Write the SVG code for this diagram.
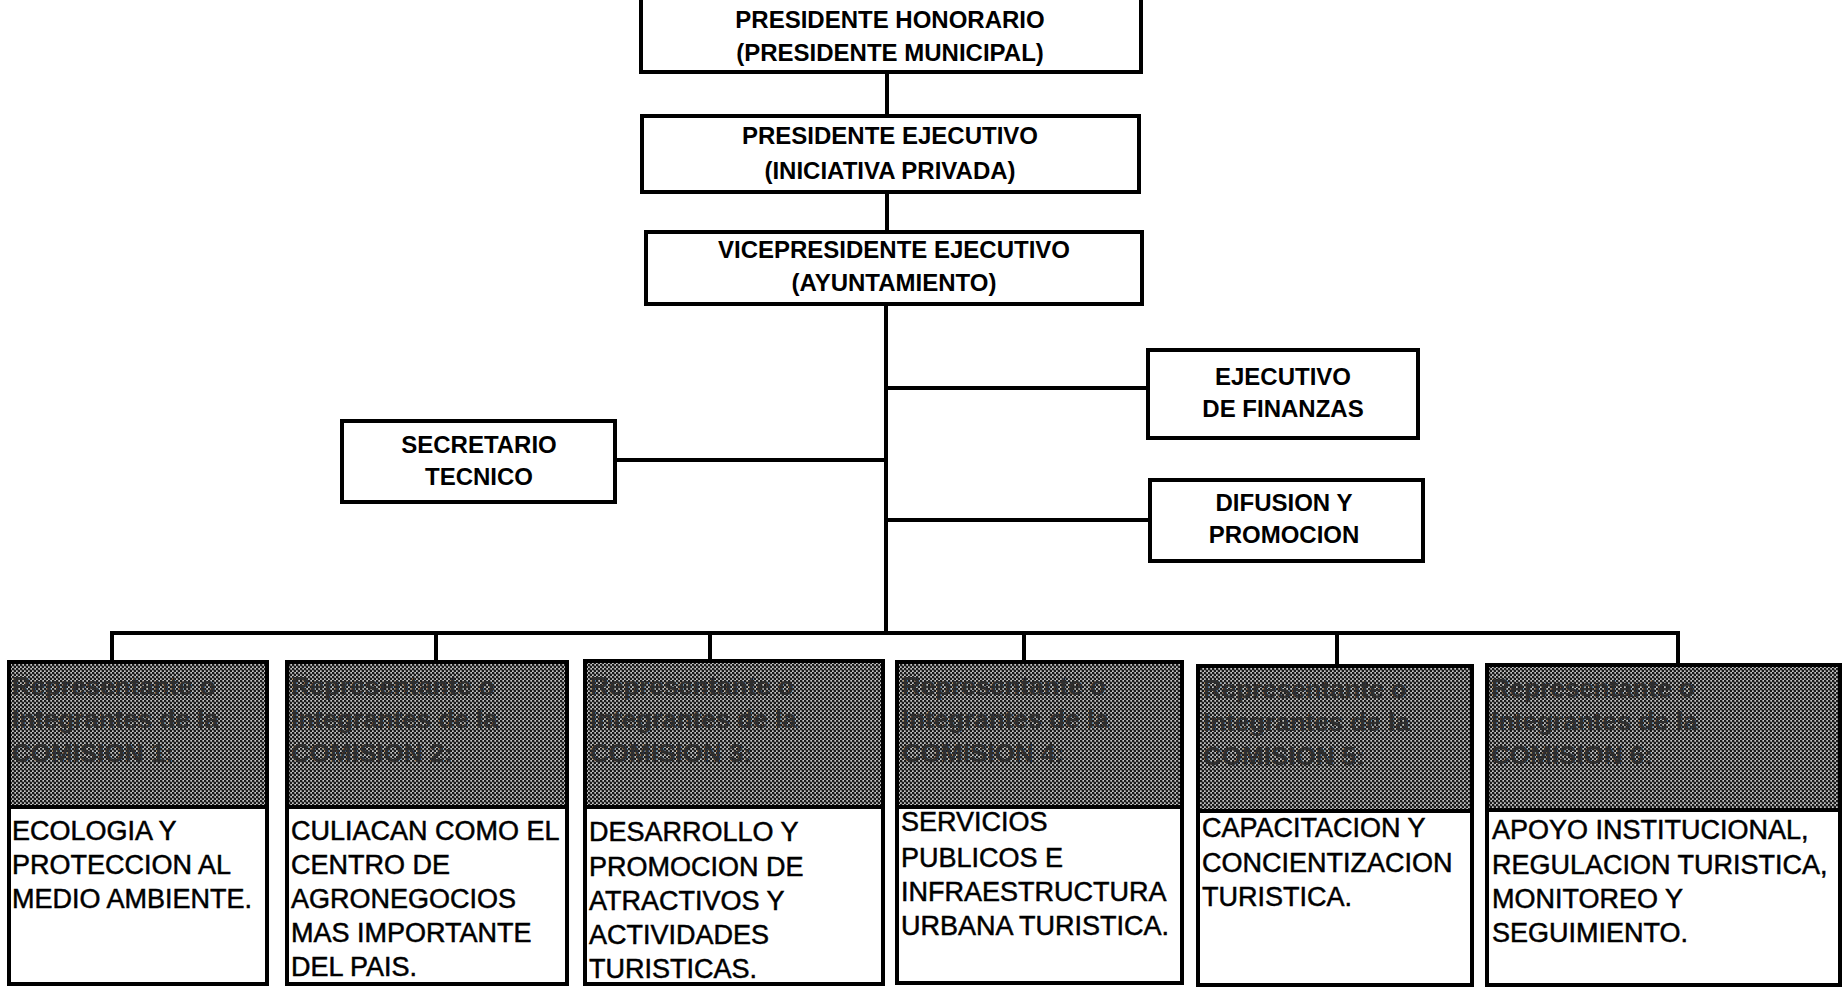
<svg xmlns="http://www.w3.org/2000/svg" width="1844" height="993" viewBox="0 0 1844 993">
<defs>
<pattern id="dots" width="4" height="4" patternUnits="userSpaceOnUse">
<rect width="4" height="4" fill="#c4c4c4"/>
<circle cx="1" cy="1" r="1.4" fill="#1a1a1a"/>
<circle cx="3" cy="3" r="1.4" fill="#1a1a1a"/>
</pattern>
<style>
.box{fill:#fff;stroke:#000;stroke-width:4}
.ln{stroke:#000;stroke-width:4;fill:none;stroke-linecap:square}
.tb{font-family:"Liberation Sans",Arial,sans-serif;font-weight:bold;font-size:24px;fill:#000;text-anchor:middle}
.hd{fill:url(#dots);stroke:#000;stroke-width:4}
.ht{font-family:"Liberation Sans",Arial,sans-serif;font-weight:bold;font-size:26px;fill:#2e2e2e}
.bt{font-family:"Liberation Sans",Arial,sans-serif;font-size:27px;fill:#000;stroke:#000;stroke-width:0.5}
</style>
</defs>
<rect width="1844" height="993" fill="#fff"/>
<g id="connectors">
<line class="ln" x1="887" y1="72" x2="887" y2="116"/>
<line class="ln" x1="887" y1="192" x2="887" y2="232"/>
<line class="ln" x1="886" y1="304" x2="886" y2="633"/>
<line class="ln" x1="886" y1="388" x2="1148" y2="388"/>
<line class="ln" x1="615" y1="460" x2="886" y2="460"/>
<line class="ln" x1="886" y1="520" x2="1150" y2="520"/>
<polyline class="ln" points="112,662 112,633 1678,633 1678,662"/>
<line class="ln" x1="436" y1="633" x2="436" y2="662"/>
<line class="ln" x1="710" y1="633" x2="710" y2="661"/>
<line class="ln" x1="1024" y1="633" x2="1024" y2="662"/>
<line class="ln" x1="1337" y1="633" x2="1337" y2="666"/>
</g>
<g id="presidente-honorario">
<rect class="box" x="641" y="-2" width="500" height="74"/>
<text class="tb" x="890" y="28">PRESIDENTE HONORARIO</text>
<text class="tb" x="890" y="61">(PRESIDENTE MUNICIPAL)</text>
</g>
<g id="presidente-ejecutivo">
<rect class="box" x="642" y="116" width="497" height="76"/>
<text class="tb" x="890" y="144">PRESIDENTE EJECUTIVO</text>
<text class="tb" x="890" y="179">(INICIATIVA PRIVADA)</text>
</g>
<g id="vicepresidente-ejecutivo">
<rect class="box" x="646" y="232" width="496" height="72"/>
<text class="tb" x="894" y="258">VICEPRESIDENTE EJECUTIVO</text>
<text class="tb" x="894" y="291">(AYUNTAMIENTO)</text>
</g>
<g id="ejecutivo-finanzas">
<rect class="box" x="1148" y="350" width="270" height="88"/>
<text class="tb" x="1283" y="385">EJECUTIVO</text>
<text class="tb" x="1283" y="417">DE FINANZAS</text>
</g>
<g id="secretario-tecnico">
<rect class="box" x="342" y="421" width="273" height="81"/>
<text class="tb" x="479" y="453">SECRETARIO</text>
<text class="tb" x="479" y="485">TECNICO</text>
</g>
<g id="difusion-promocion">
<rect class="box" x="1150" y="480" width="273" height="81"/>
<text class="tb" x="1284" y="511">DIFUSION Y</text>
<text class="tb" x="1284" y="543">PROMOCION</text>
</g>
<g id="comision-1">
<rect class="box" x="9" y="662" width="258" height="322"/>
<rect class="hd" x="9" y="662" width="258" height="145"/>
<text class="ht" x="12" y="695">Representante o</text>
<text class="ht" x="12" y="728">Integrantes de la</text>
<text class="ht" x="12" y="762">COMISION 1:</text>
<text class="bt" x="12" y="840">ECOLOGIA Y</text>
<text class="bt" x="12" y="874">PROTECCION AL</text>
<text class="bt" x="12" y="908">MEDIO AMBIENTE.</text>
</g>
<g id="comision-2">
<rect class="box" x="287" y="662" width="280" height="322"/>
<rect class="hd" x="287" y="662" width="280" height="145"/>
<text class="ht" x="291" y="695">Representante o</text>
<text class="ht" x="291" y="728">Integrantes de la</text>
<text class="ht" x="291" y="762">COMISION 2:</text>
<text class="bt" x="291" y="840">CULIACAN COMO EL</text>
<text class="bt" x="291" y="874">CENTRO DE</text>
<text class="bt" x="291" y="908">AGRONEGOCIOS</text>
<text class="bt" x="291" y="942">MAS IMPORTANTE</text>
<text class="bt" x="291" y="976">DEL PAIS.</text>
</g>
<g id="comision-3">
<rect class="box" x="585" y="661" width="298" height="323"/>
<rect class="hd" x="585" y="661" width="298" height="146"/>
<text class="ht" x="590" y="695">Representante o</text>
<text class="ht" x="590" y="728">Integrantes de la</text>
<text class="ht" x="590" y="762">COMISION 3:</text>
<text class="bt" x="589" y="841">DESARROLLO Y</text>
<text class="bt" x="589" y="876">PROMOCION DE</text>
<text class="bt" x="589" y="910">ATRACTIVOS Y</text>
<text class="bt" x="589" y="944">ACTIVIDADES</text>
<text class="bt" x="589" y="978">TURISTICAS.</text>
</g>
<g id="comision-4">
<rect class="box" x="897" y="662" width="285" height="321"/>
<rect class="hd" x="897" y="662" width="285" height="145"/>
<text class="ht" x="902" y="695">Representante o</text>
<text class="ht" x="902" y="728">Integrantes de la</text>
<text class="ht" x="902" y="762">COMISION 4:</text>
<text class="bt" x="901" y="831">SERVICIOS</text>
<text class="bt" x="901" y="867">PUBLICOS E</text>
<text class="bt" x="901" y="901">INFRAESTRUCTURA</text>
<text class="bt" x="901" y="935">URBANA TURISTICA.</text>
</g>
<g id="comision-5">
<rect class="box" x="1198" y="666" width="274" height="319"/>
<rect class="hd" x="1198" y="666" width="274" height="145"/>
<text class="ht" x="1203" y="698">Representante o</text>
<text class="ht" x="1203" y="731">Integrantes de la</text>
<text class="ht" x="1203" y="765">COMISION 5:</text>
<text class="bt" x="1202" y="837">CAPACITACION Y</text>
<text class="bt" x="1202" y="872">CONCIENTIZACION</text>
<text class="bt" x="1202" y="906">TURISTICA.</text>
</g>
<g id="comision-6">
<rect class="box" x="1487" y="665" width="353" height="320"/>
<rect class="hd" x="1487" y="665" width="353" height="145"/>
<text class="ht" x="1491" y="697">Representante o</text>
<text class="ht" x="1491" y="730">Integrantes de la</text>
<text class="ht" x="1491" y="764">COMISION 6:</text>
<text class="bt" x="1492" y="839">APOYO INSTITUCIONAL,</text>
<text class="bt" x="1492" y="874">REGULACION TURISTICA,</text>
<text class="bt" x="1492" y="908">MONITOREO Y</text>
<text class="bt" x="1492" y="942">SEGUIMIENTO.</text>
</g>
</svg>
